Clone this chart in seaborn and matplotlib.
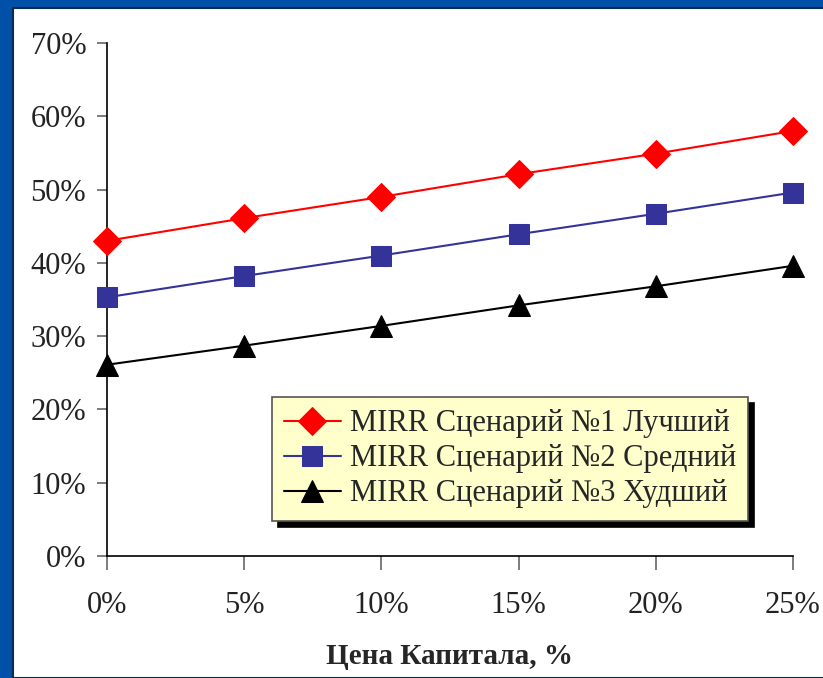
import numpy as np
import pandas as pd
import matplotlib.pyplot as plt
import seaborn as sns
from matplotlib.patches import Rectangle

sns.set_theme(style='white')
plt.rcParams['font.family'] = ['Liberation Serif', 'DejaVu Serif']

# данные
cost = [0, 5, 10, 15, 20, 25]
best = [43.0, 46.1, 49.0, 52.1, 54.9, 58.0]
mid = [35.3, 38.2, 41.0, 43.9, 46.7, 49.6]
worst = [26.1, 28.7, 31.4, 34.2, 36.8, 39.6]
names = ['MIRR Сценарий №1 Лучший',
         'MIRR Сценарий №2 Средний',
         'MIRR Сценарий №3 Худший']

df = pd.DataFrame({'cost': cost * 3,
                   'mirr': best + mid + worst,
                   'scen': [names[0]] * 6 + [names[1]] * 6 + [names[2]] * 6})

W, H = 823, 678
fig = plt.figure(figsize=(W / 100, H / 100), dpi=100, facecolor='#0050A8')
# белая подложка слайда
fig.patches.append(Rectangle((13 / W, 0), 1, 1 - 8 / H, transform=fig.transFigure,
                             facecolor='white', edgecolor='#0A2A50', lw=1.5, zorder=-10))

ax = fig.add_axes([107 / W, 1 - 556 / H, (793 - 107) / W, (556 - 43) / H])
ax.set_facecolor('white')

palette = {names[0]: '#FF0000', names[1]: '#333399', names[2]: '#000000'}
markers = {names[0]: 'D', names[1]: 's', names[2]: '^'}
sizes = {names[0]: 14, names[1]: 15, names[2]: 16}

for n in names:
    sub = df[df['scen'] == n]
    sns.lineplot(data=sub, x='cost', y='mirr', ax=ax, color=palette[n],
                 marker=markers[n], markersize=sizes[n], markeredgecolor=palette[n],
                 linewidth=1.5, label=n, clip_on=False, zorder=3)

ax.set_xlim(0, 25)
ax.set_ylim(0, 70)
ax.set_xticks(cost)
ax.set_xticklabels([f'{c}%' for c in cost])
ax.set_yticks(range(0, 71, 10))
ax.set_yticklabels([f'{v}%' for v in range(0, 71, 10)])
ax.tick_params(axis='both', labelsize=22, colors='#222222')
ax.tick_params(axis='y', left=True, length=7, width=1.2, color='#666666', pad=8)
ax.tick_params(axis='x', bottom=True, length=10, width=1.2, color='#666666', pad=15)

for s in ['top', 'right']:
    ax.spines[s].set_visible(False)
for s in ['left', 'bottom']:
    ax.spines[s].set_color('black')
    ax.spines[s].set_linewidth(1.2)

ax.set_xlabel('Цена Капитала, %', fontsize=21, fontweight='bold', labelpad=17)
ax.set_ylabel('')

leg = ax.legend(loc='upper left', bbox_to_anchor=((272 - 107) / (793 - 107), 1 - (397 - 43) / (556 - 43)),
                fontsize=22, frameon=True, fancybox=False, framealpha=1,
                facecolor='#FFFFCC', edgecolor='#555555', borderpad=0.4,
                labelspacing=0.2, handlelength=1.85, handletextpad=0.3, borderaxespad=0,
                shadow={'color': 'black', 'alpha': 1, 'ox': 4, 'oy': -4.5})
leg.get_frame().set_linewidth(1.2)

fig.savefig('out.png', dpi=100, facecolor=fig.get_facecolor())
